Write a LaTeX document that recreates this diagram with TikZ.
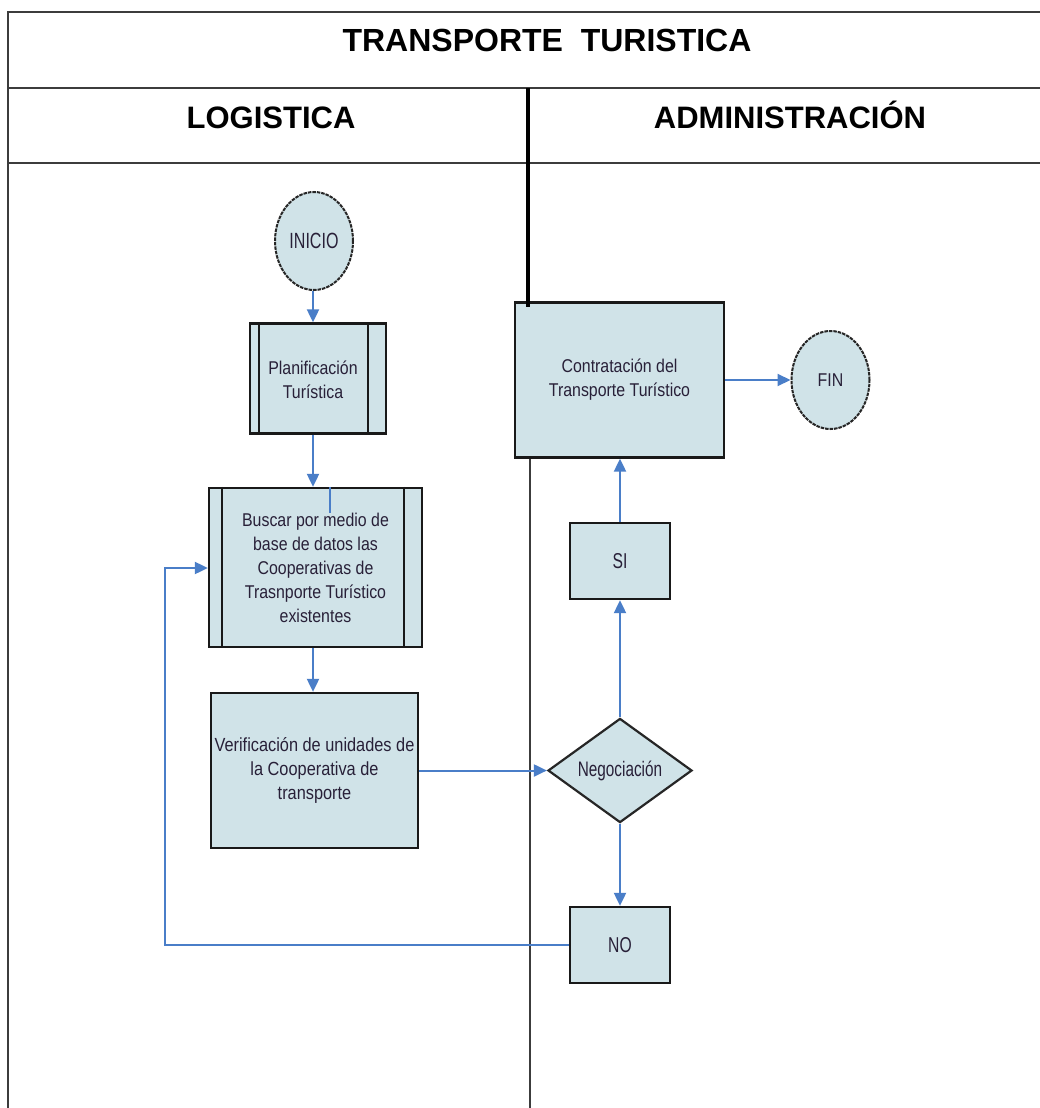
\documentclass[tikz,border=0pt]{standalone}
\usepackage{fontspec}
\setmainfont{Liberation Sans}
\newfontfamily\boxfont[FakeStretch=0.86]{Liberation Sans}
\newfontfamily\tallfont[FakeStretch=0.73]{Liberation Sans}
\usetikzlibrary{arrows.meta,shapes.geometric}
\definecolor{boxfill}{RGB}{208,227,232}
\definecolor{flowblue}{RGB}{74,126,200}
\definecolor{inktext}{RGB}{40,32,56}
\definecolor{ruleline}{RGB}{60,60,60}

\begin{document}
\begin{tikzpicture}[x=1pt,y=-1pt,
  frame/.style={draw=ruleline,line width=2.4pt},
  heading/.style={font=\bfseries\fontsize{31}{36}\selectfont,text=black,inner sep=0pt,anchor=base},
  procbox/.style={rectangle,draw=black!90,line width=2.3pt,fill=boxfill,text=inktext,
    align=center,font=\boxfont\fontsize{18.5}{24}\selectfont,inner sep=0pt},
  sideline/.style={draw=black!90,line width=2.3pt},
  boxtext/.style={text=inktext,align=center,font=\boxfont\fontsize{18.5}{24}\selectfont,inner sep=0pt},
  shortbox/.style={procbox,font=\tallfont\fontsize{21.5}{24}\selectfont},
  terminal/.style={ellipse,draw=black!85,dash pattern=on 3.5pt off 1pt,line width=2pt,
    fill=boxfill,text=inktext,inner sep=0pt,minimum width=78pt,minimum height=98pt},
  decision/.style={diamond,draw=black!85,line width=2.2pt,fill=boxfill,text=inktext,inner sep=0pt,
    minimum width=144pt,minimum height=104pt,font=\tallfont\fontsize{21}{24}\selectfont},
  flow/.style={draw=flowblue,line width=2pt,-{Triangle[length=13pt,width=12pt]}},
  flowline/.style={draw=flowblue,line width=2pt}
]
\useasboundingbox (0,0) rectangle (1040,1108);
\fill[white] (0,0) rectangle (1040,1108);

% table frame and lane headings
\draw[frame] (8,1108) -- (8,12) -- (1040,12);
\draw[frame] (8,88) -- (1040,88);
\draw[frame] (8,163) -- (1040,163);
\node[heading,font=\bfseries\fontsize{32}{36}\selectfont] (title) at (547,52) {TRANSPORTE\ \ TURISTICA};
\node[heading] (lanelog) at (271,128) {LOGISTICA};
\node[heading] (laneadm) at (790,128) {ADMINISTRACIÓN};
\draw[ruleline,line width=2.2pt] (530,458) -- (530,1108);

% logistics lane
\node[terminal,font=\tallfont\fontsize{22}{24}\selectfont] (ini) at (314,241) {INICIO};

\node[procbox,minimum width=136pt,minimum height=110pt] (plan) at (318,378.5) {};
\draw[sideline] ([xshift=10pt]plan.north west) -- ([xshift=10pt]plan.south west);
\draw[sideline] ([xshift=-19pt]plan.north east) -- ([xshift=-19pt]plan.south east);
\node[boxtext] (plantext) at (313,380) {Planificación\\Turística};

\node[procbox,minimum width=213pt,minimum height=159pt] (busc) at (315.5,567.5)
  {Buscar por medio de\\base de datos las\\Cooperativas de\\Trasnporte Turístico\\existentes};
\draw[sideline] ([xshift=14pt]busc.north west) -- ([xshift=14pt]busc.south west);
\draw[sideline] ([xshift=-19pt]busc.north east) -- ([xshift=-19pt]busc.south east);

\node[procbox,minimum width=207pt,minimum height=155pt,font=\boxfont\fontsize{19}{24}\selectfont] (verif) at (314.5,770.5)
  {Verificación de unidades de\\la Cooperativa de\\transporte};

% administration lane
\node[procbox,minimum width=209pt,minimum height=155pt] (contr) at (619.5,380)
  {Contratación del\\Transporte Turístico};
\node[terminal,font=\boxfont\fontsize{18.5}{24}\selectfont] (fin) at (830.5,380) {FIN};
\node[shortbox,minimum width=100pt,minimum height=76pt] (si) at (620,561) {SI};
\node[decision] (neg) at (620,770.5) {Negociación};
\node[shortbox,minimum width=100pt,minimum height=76pt] (no) at (620,945) {NO};

\draw[black,line width=3.5pt] (528,88) -- (528,307);

% connectors
\coordinate (loopbot) at (165,945);
\coordinate (looptop) at (165,568);
\coordinate (stubend) at (330,513);
\draw[flow] (plantext |- ini.south) -- (plantext |- plan.north);
\draw[flow] (plantext |- plan.south) -- (plantext |- busc.north);
\draw[flowline] (stubend |- busc.north) -- (stubend);
\draw[flow] (plantext |- busc.south) -- (plantext |- verif.north);
\draw[flow] (verif.east) -- (neg.west);
\draw[flow] (neg.north) -- (si.south);
\draw[flow] (si.north) -- (si |- contr.south);
\draw[flow] (contr.east) -- (fin.west);
\draw[flow] (neg.south) -- (no.north);
\draw[flow] (no.west) -- (loopbot) -- (looptop) -- (looptop -| busc.west);
\end{tikzpicture}
\end{document}
